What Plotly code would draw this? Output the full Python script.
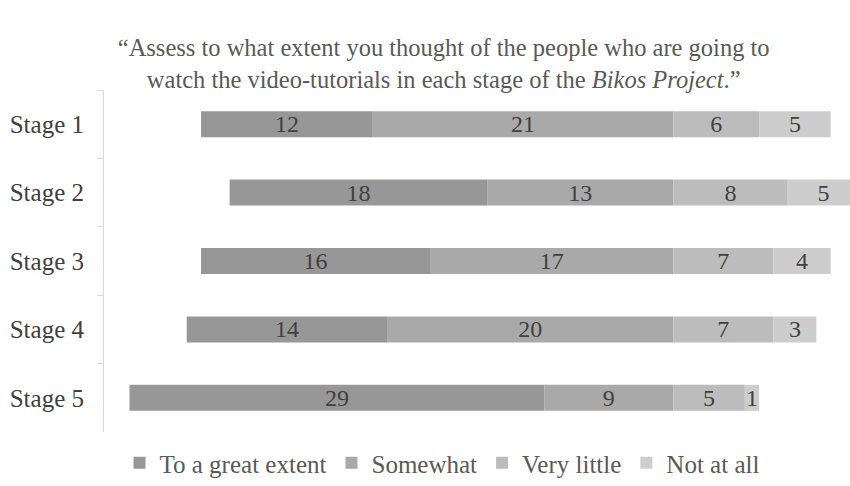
import plotly.graph_objects as go

stages = ["Stage 1", "Stage 2", "Stage 3", "Stage 4", "Stage 5"]
great = [12, 18, 16, 14, 29]
somewhat = [21, 13, 17, 20, 9]
very_little = [6, 8, 7, 7, 5]
not_at_all = [5, 5, 4, 3, 1]

colors = {
    "To a great extent": "#979797",
    "Somewhat": "#a9a9a9",
    "Very little": "#bcbcbc",
    "Not at all": "#cdcdcd",
}

font_family = "Liberation Serif, Times New Roman, serif"
txt_color = "#404040"

fig = go.Figure()

def add(name, vals, sign, rank):
    fig.add_trace(go.Bar(
        y=stages, x=[sign * v for v in vals], name=name, orientation="h",
        marker=dict(color=colors[name], line=dict(width=0)),
        text=[str(v) for v in vals], textposition="inside",
        insidetextanchor="middle", textangle=0,
        textfont=dict(family=font_family, size=24, color=txt_color),
        legendrank=rank, hoverinfo="skip",
    ))

# order matters for relative stacking (closest to zero first)
add("Somewhat", somewhat, -1, 2)
add("To a great extent", great, -1, 1)
add("Very little", very_little, 1, 3)
add("Not at all", not_at_all, 1, 4)

fig.update_layout(
    width=850, height=486,
    barmode="relative", bargap=0.62,
    plot_bgcolor="white", paper_bgcolor="white",
    margin=dict(l=104, r=0, t=90, b=54, autoexpand=False),
    font=dict(family=font_family, color=txt_color),
    uniformtext=dict(minsize=24, mode="show"),
    title=dict(
        text="\u201cAssess to what extent you thought of the people who are going to<br>"
             "watch the video-tutorials in each stage of the <i>Bikos Project</i>.\u201d",
        x=0.522, xanchor="center", xref="container",
        y=0.884, yanchor="top", yref="container",
        font=dict(family=font_family, size=24.5, color="#595959"),
    ),
    xaxis=dict(range=[-39.78, 12.35], visible=False, fixedrange=True),
    yaxis=dict(
        autorange="reversed", showline=True, linecolor="#d9d9d9", linewidth=1,
        ticks="outside", tickson="boundaries", ticklen=6, tickcolor="#d9d9d9",
        tickfont=dict(family=font_family, size=25, color=txt_color),
        showgrid=False, zeroline=False, ticklabelstandoff=14, automargin=False,
    ),
    legend=dict(
        orientation="h", x=0.52, xanchor="center", xref="container",
        y=-0.01, yanchor="bottom", yref="container",
        font=dict(family=font_family, size=25, color="#595959"),
        itemwidth=30, traceorder="normal",
    ),
    showlegend=True,
)

fig.write_html("out.html", config={"displayModeBar": False},
               post_script="document.body.style.margin='0';")
